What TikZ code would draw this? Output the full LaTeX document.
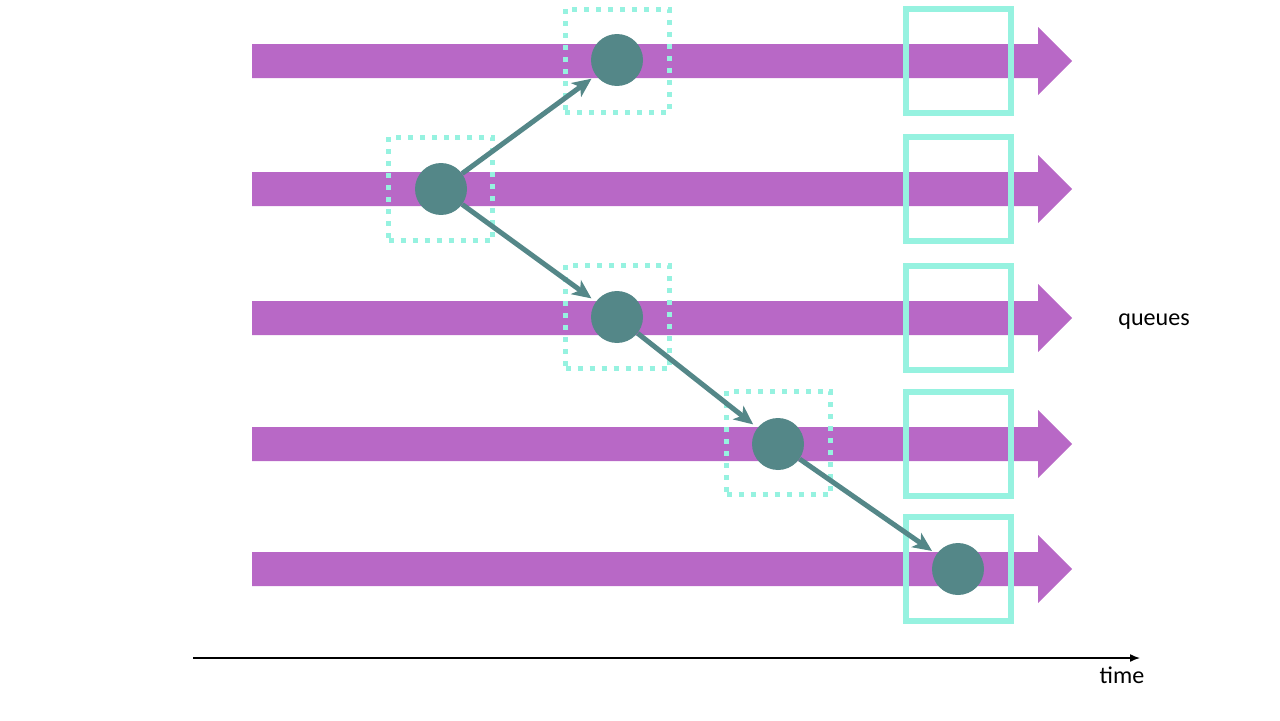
\documentclass[tikz,border=0pt]{standalone}
\usepackage{fontspec}
\setmainfont{Carlito}
\usetikzlibrary{positioning}
\usetikzlibrary{arrows.meta}
\definecolor{queuepurple}{RGB}{184,104,198}
\definecolor{slotaqua}{RGB}{150,242,224}
\definecolor{jobteal}{RGB}{84,135,136}

\begin{document}
\begin{tikzpicture}[x=0.02cm,y=-0.02cm]
        \useasboundingbox (0,0) rectangle (1280,720);

        % queues
        \foreach \y in {61,189,318,444,569}
            \fill[queuepurple] (252,\y-17) -- (1038,\y-17) -- (1038,\y-34) -- (1072,\y)
                -- (1038,\y+34) -- (1038,\y+17) -- (252,\y+17) -- cycle;

        \begin{scope}[every node/.style={draw=slotaqua,line width=0.11cm,inner sep=0pt,
            minimum width=2.1cm,minimum height=2.08cm}]
            \node (s1) at (958.5,61) {};
            \node (s2) at (958.5,189) {};
            \node (s3) at (958.5,318) {};
            \node (s4) at (958.5,444) {};
            \node (s5) at (958.5,569) {};
        \end{scope}

        \begin{scope}[every node/.style={draw=slotaqua,line width=0.1cm,inner sep=0pt,
            dash pattern=on 0.1cm off 0.14cm,minimum width=2.08cm,minimum height=2.08cm}]
            \node (d1) at (617,61) {};
            \node (d2) at (440.5,189) {};
            \node (d3) at (617.5,317) {};
            \node (d4) at (778.5,443) {};
        \end{scope}

        \begin{scope}[every node/.style={circle,fill=jobteal,inner sep=0pt,minimum size=1.04cm}]
            \node (j0) at (441,189) {};
            \node (j1) at (617,60) {};
            \node (j2) at (617,317) {};
            \node (j3) at (778,444) {};
            \node (j4) at (958,569) {};
        \end{scope}

        \begin{scope}[every edge/.style={draw=jobteal,line width=0.1cm,shorten >=3pt,
            -{Stealth[length=0.38cm,width=0.34cm,inset=0.1cm]}}]
            \path (j0) edge (j1);
            \path (j0) edge (j2);
            \path (j2) edge (j3);
            \path (j3) edge (j4);
        \end{scope}

        % time axis
        \coordinate (t0) at (193,658);
        \coordinate (t1) at (1140,658);
        \draw [line width=0.03cm,-{Latex[length=0.2cm,width=0.16cm]}] (t0) -- (t1);

        \node[font=\fontsize{13.7}{16}\selectfont] (time) at (1122,675) {time};
        \node[font=\fontsize{13.7}{16}\selectfont] (queues) at (1154,322) {queues};
\end{tikzpicture}
\end{document}
